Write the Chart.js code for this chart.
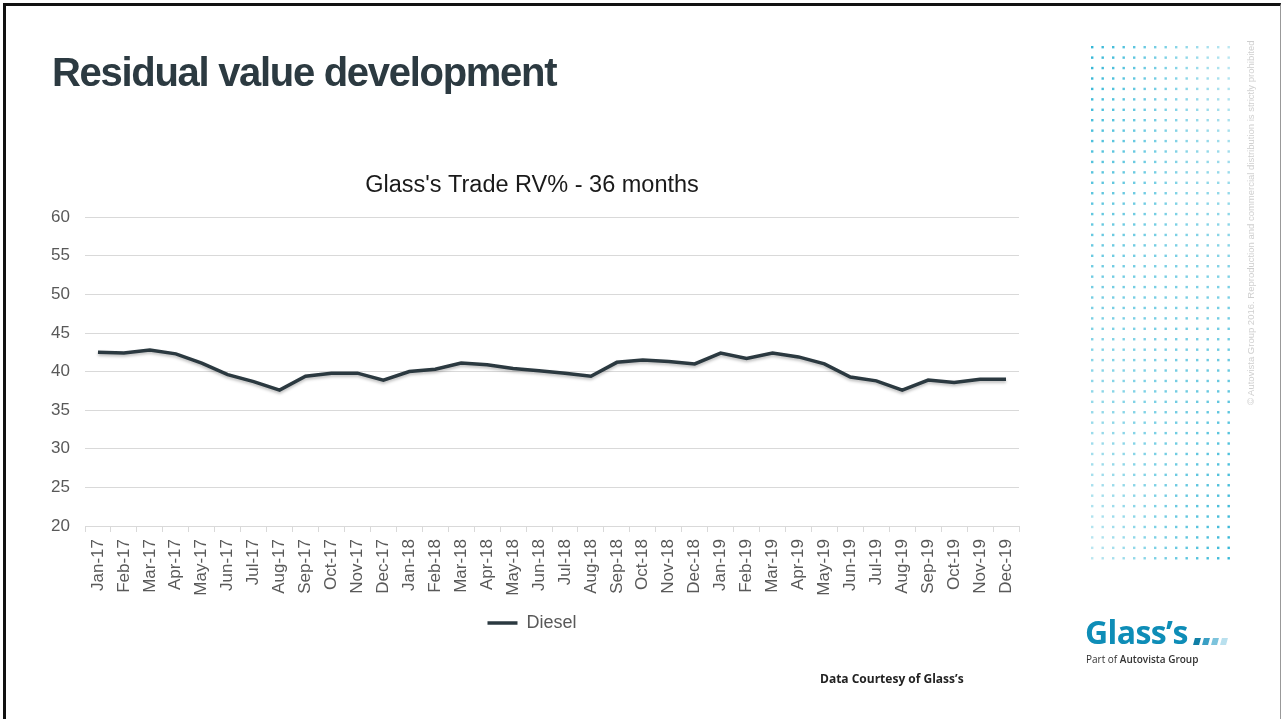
<!DOCTYPE html>
<html>
<head>
<meta charset="utf-8">
<script src="https://cdn.jsdelivr.net/npm/chart.js@4.4.0/dist/chart.umd.min.js"></script>
<style>
  body { margin: 0; width: 1281px; height: 719px; overflow: hidden; background: #fff; font-family: "Liberation Sans", Arial, sans-serif; }
  #frame { position: absolute; left: 3px; top: 3px; width: 1274px; height: 720px; border-left: 3px solid #111; border-top: 3px solid #111; border-right: 1px solid #999; }
  #slideTitle { position: absolute; left: 52px; top: 50px; font-size: 40px; font-weight: bold; letter-spacing: -1.3px; color: #2c3a41; white-space: nowrap; }
  #chartBox { position: absolute; left: 0; top: 0; width: 1281px; height: 719px; }
  #dots { position: absolute; left: 1086px; top: 43px; }
  #copy { position: absolute; left: 1245px; top: 405px; transform-origin: 0 0; transform: rotate(-90deg); font-size: 9.5px; color: #cfcfcf; white-space: nowrap; }
  #logo { position: absolute; left: 1085px; top: 610px; font-family: "Open Sans", sans-serif; font-weight: 700; font-size: 32px; color: #0e8db7; letter-spacing: -0.6px; }
  .sq { position: absolute; top: 638px; width: 6px; height: 7px; transform: skewX(-15deg); }
  #part { position: absolute; left: 1086px; top: 652px; font-family: "Open Sans", sans-serif; font-size: 10px; color: #333; white-space: nowrap; }
  #courtesy { position: absolute; left: 820px; top: 670px; font-family: "Open Sans", sans-serif; font-weight: bold; font-size: 12px; color: #222; white-space: nowrap; }
</style>
</head>
<body>
<div id="frame"></div>
<div id="chartBox"><canvas id="line_chart"></canvas></div>
<div id="slideTitle">Residual value development</div>
<canvas id="dots" width="150" height="522"></canvas>
<div id="copy">© Autovista Group 2016. Reproduction and commercial distribution is strictly prohibited</div>
<div id="logo">Glass’s</div>
<div class="sq" style="left:1194px;background:#0f7fa6"></div>
<div class="sq" style="left:1203px;background:#3a9fc4"></div>
<div class="sq" style="left:1212px;background:#7cc3dc"></div>
<div class="sq" style="left:1221px;background:#b9e0ee"></div>
<div id="part">Part of <b style="font-weight:600">Autovista Group</b></div>
<div id="courtesy">Data Courtesy of Glass’s</div>

<script>
var months = ["Jan-17", "Feb-17", "Mar-17", "Apr-17", "May-17", "Jun-17", "Jul-17", "Aug-17", "Sep-17", "Oct-17", "Nov-17", "Dec-17",
              "Jan-18", "Feb-18", "Mar-18", "Apr-18", "May-18", "Jun-18", "Jul-18", "Aug-18", "Sep-18", "Oct-18", "Nov-18", "Dec-18",
              "Jan-19", "Feb-19", "Mar-19", "Apr-19", "May-19", "Jun-19", "Jul-19", "Aug-19", "Sep-19", "Oct-19", "Nov-19", "Dec-19"];
var diesel = [42.5, 42.4, 42.8, 42.3, 41.1, 39.6, 38.7, 37.6, 39.4, 39.8, 39.8, 38.9,
              40.0, 40.3, 41.1, 40.9, 40.4, 40.1, 39.8, 39.4, 41.2, 41.5, 41.3, 41.0,
              42.4, 41.7, 42.4, 41.9, 41.0, 39.3, 38.8, 37.6, 38.9, 38.6, 39.0, 39.0];
var yMin = 20, yMax = 60, yStep = 5;

// decorative dot panel on the right
function drawDots() {
    var ctx = document.getElementById("dots").getContext("2d");
    var cols = 14, rows = 50;
    for (var r = 0; r < rows; r++) {
        for (var c = 0; c < cols; c++) {
            var xf = c / (cols - 1), yf = r / (rows - 1);
            var a = 0.6 + 0.3 * (1 - 2 * xf) * (1 - 2 * yf);
            ctx.fillStyle = "rgba(30,175,210," + a.toFixed(2) + ")";
            ctx.fillRect(5 + c * 10.5, 3 + r * 10.43, 2.4, 2.4);
        }
    }
}

// soft shadow under the line, like the office chart
var lineShadow = {
    id: 'lineShadow',
    beforeDatasetDraw: function (chart) {
        var ctx = chart.ctx;
        ctx.save();
        ctx.shadowColor = 'rgba(0,0,0,0.25)';
        ctx.shadowBlur = 3;
        ctx.shadowOffsetY = 2;
    },
    afterDatasetDraw: function (chart) { chart.ctx.restore(); }
};

drawDots();

new Chart(document.getElementById("line_chart").getContext("2d"), {
    type: 'line',
    data: {
        labels: months,
        datasets: [{
            label: "Diesel",
            data: diesel,
            borderColor: '#2b3940',
            backgroundColor: '#2b3940',
            borderWidth: 3.5,
            pointRadius: 0,
            tension: 0
        }]
    },
    plugins: [lineShadow],
    options: {
        responsive: true,
        maintainAspectRatio: false,
        animation: false,
        layout: { padding: { left: 45, right: 262, top: 0, bottom: 77 } },
        plugins: {
            title: {
                display: true,
                text: "Glass's Trade RV% - 36 months",
                color: '#1a1a1a',
                font: { family: "Liberation Sans", size: 23.5, weight: 'normal' },
                padding: { top: 171, bottom: 18 }
            },
            legend: {
                position: 'bottom',
                labels: {
                    usePointStyle: true,
                    pointStyle: 'line',
                    pointStyleWidth: 30,
                    color: '#595959',
                    padding: 7,
                    font: { family: "Liberation Sans", size: 18 }
                }
            },
            tooltip: { enabled: false }
        },
        scales: {
            x: {
                offset: true,
                grid: { offset: true, drawOnChartArea: false, drawTicks: true, tickLength: 6, color: '#d9d9d9' },
                border: { color: '#d9d9d9' },
                ticks: { color: '#595959', minRotation: 90, maxRotation: 90, autoSkip: false, padding: 7,
                         font: { family: "Liberation Sans", size: 17 } },
                afterFit: function (scale) { scale.height = 81; }
            },
            y: {
                min: yMin,
                max: yMax,
                grid: { color: '#d9d9d9', drawTicks: false },
                border: { display: false },
                ticks: { stepSize: yStep, color: '#595959', padding: 15,
                         font: { family: "Liberation Sans", size: 17 } },
                afterFit: function (scale) { scale.width = 40; }
            }
        }
    }
});
</script>
</body>
</html>
